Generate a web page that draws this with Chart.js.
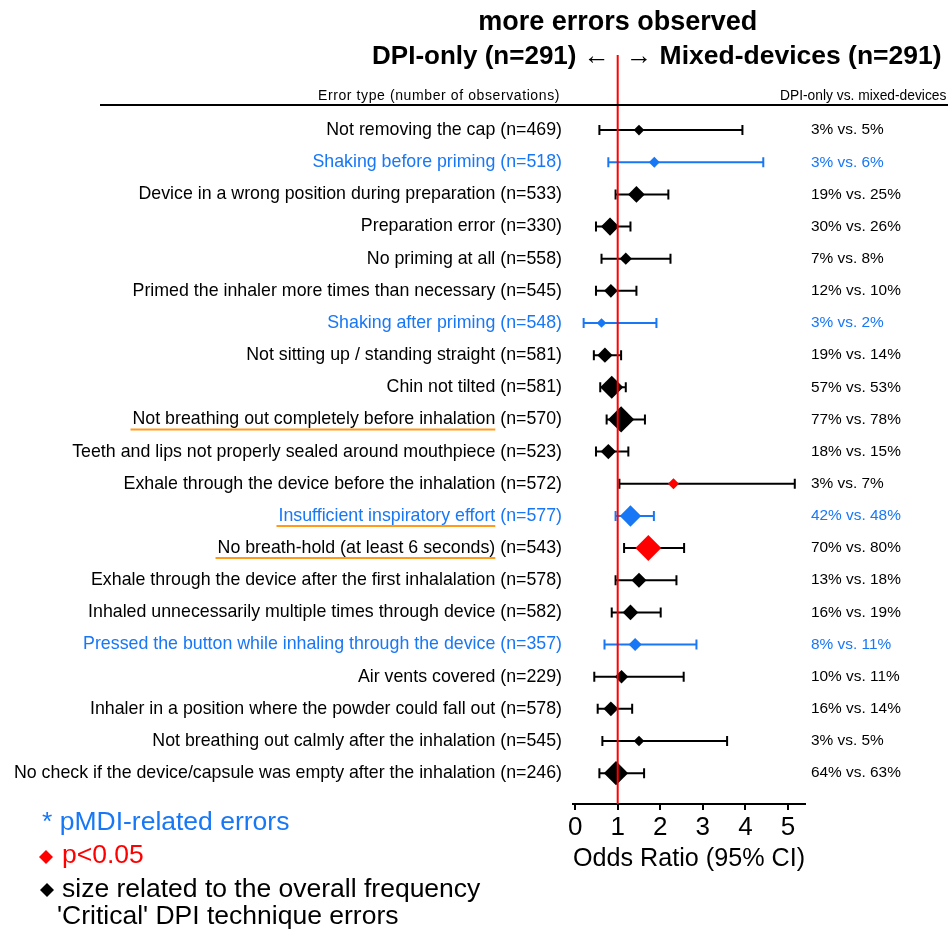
<!DOCTYPE html>
<html>
<head>
<meta charset="utf-8">
<script src="https://cdn.jsdelivr.net/npm/chart.js@4/dist/chart.umd.min.js"></script>
<style>
  body { margin: 0; background: #fff; }
  canvas { display: block; }
</style>
</head>
<body>
<canvas id="forest" width="948" height="933"></canvas>
<script>
const errorTypes = [
    'Not removing the cap',
    'Shaking before priming',
    'Device in a wrong position during preparation',
    'Preparation error',
    'No priming at all',
    'Primed the inhaler more times than necessary',
    'Shaking after priming',
    'Not sitting up / standing straight',
    'Chin not tilted',
    'Not breathing out completely before inhalation',
    'Teeth and lips not properly sealed around mouthpiece',
    'Exhale through the device before the inhalation',
    'Insufficient inspiratory effort',
    'No breath-hold (at least 6 seconds)',
    'Exhale through the device after the first inhalalation',
    'Inhaled unnecessarily multiple times through device',
    'Pressed the button while inhaling through the device',
    'Air vents covered',
    'Inhaler in a position where the powder could fall out',
    'Not breathing out calmly after the inhalation',
    'No check if the device/capsule was empty after the inhalation'
];
const observations = [469, 518, 533, 330, 558, 545, 548, 581, 581, 570, 523, 572, 577, 543, 578, 582, 357, 229, 578, 545, 246];
const oddsRatio = [1.50, 1.86, 1.44, 0.82, 1.19, 0.84, 0.62, 0.70, 0.86, 1.08, 0.78, 2.31, 1.30, 1.72, 1.50, 1.30, 1.41, 1.09, 0.84, 1.50, 0.96];
const ciLower   = [0.57, 0.78, 0.95, 0.49, 0.62, 0.49, 0.20, 0.44, 0.59, 0.74, 0.49, 1.04, 0.95, 1.15, 0.95, 0.86, 0.69, 0.45, 0.53, 0.64, 0.57];
const ciUpper   = [3.93, 4.42, 2.19, 1.30, 2.24, 1.44, 1.91, 1.08, 1.19, 1.64, 1.25, 5.16, 1.85, 2.56, 2.38, 2.01, 2.85, 2.55, 1.34, 3.57, 1.62];
const dpiOnlyPct = [3, 3, 19, 30, 7, 12, 3, 19, 57, 77, 18, 3, 42, 70, 13, 16, 8, 10, 16, 3, 64];
const mixedPct   = [5, 6, 25, 26, 8, 10, 2, 14, 53, 78, 15, 7, 48, 80, 18, 19, 11, 11, 14, 5, 63];
const pmdiRelated = [false, true, false, false, false, false, true, false, false, false, false, false, true, false, false, false, true, false, false, false, false];
const significant = [false, false, false, false, false, false, false, false, false, false, false, true, false, true, false, false, false, false, false, false, false];
const criticalError = [false, false, false, false, false, false, false, false, false, true, false, false, true, true, false, false, false, false, false, false, false];
const tickValues = [0, 1, 2, 3, 4, 5];

const BLUE = '#1877f5';
const RED = '#ff0000';
const ORANGE = '#ff9a1a';
const FONT = "'Liberation Sans', Arial, Helvetica, sans-serif";
Chart.defaults.font.family = FONT;

function pointColor(i) {
    if (significant[i]) return RED;
    if (pmdiRelated[i]) return BLUE;
    return '#000';
}
// diamond half-width grows with the overall frequency of the error
const diamondSize = dpiOnlyPct.map((p, i) => 3 + 1.15 * Math.sqrt((p + mixedPct[i]) / 2));

function diamond(ctx, x, y, r, color) {
    ctx.fillStyle = color;
    ctx.beginPath();
    ctx.moveTo(x, y - r);
    ctx.lineTo(x + r, y);
    ctx.lineTo(x, y + r);
    ctx.lineTo(x - r, y);
    ctx.closePath();
    ctx.fill();
}

function spaced(ctx, px) {
    if ('letterSpacing' in ctx) ctx.letterSpacing = px + 'px';
}

const forestPlugin = {
    id: 'forest',
    beforeDatasetsDraw(chart) {
        let ctx = chart.ctx;
        let xs = chart.scales.x, ys = chart.scales.y;
        ctx.save();
        ctx.lineWidth = 2;
        oddsRatio.forEach((v, i) => {
            let y = ys.getPixelForValue(i);
            let x0 = xs.getPixelForValue(ciLower[i]);
            let x1 = xs.getPixelForValue(ciUpper[i]);
            ctx.strokeStyle = pmdiRelated[i] ? BLUE : '#000';
            ctx.beginPath();
            ctx.moveTo(x0, y); ctx.lineTo(x1, y);
            ctx.moveTo(x0, y - 5); ctx.lineTo(x0, y + 5);
            ctx.moveTo(x1, y - 5); ctx.lineTo(x1, y + 5);
            ctx.stroke();
        });
        ctx.restore();
    },
    afterDatasetsDraw(chart) {
        let ctx = chart.ctx;
        let xs = chart.scales.x, ys = chart.scales.y;
        let area = chart.chartArea;
        ctx.save();

        // reference line at OR = 1
        let x1 = xs.getPixelForValue(1);
        ctx.strokeStyle = RED;
        ctx.lineWidth = 2;
        ctx.beginPath();
        ctx.moveTo(x1, 55);
        ctx.lineTo(x1, area.bottom);
        ctx.stroke();

        // titles
        ctx.fillStyle = '#000';
        ctx.textBaseline = 'middle';
        ctx.font = 'bold 27px ' + FONT;
        ctx.textAlign = 'center';
        ctx.fillText('more errors observed', x1, 23);
        ctx.font = 'bold 26px ' + FONT;
        ctx.textAlign = 'right';
        ctx.fillText('DPI-only (n=291) \u2190', x1 - 8, 57);
        ctx.textAlign = 'left';
        ctx.font = 'bold 26.5px ' + FONT;
        ctx.fillText('\u2192 Mixed-devices (n=291)', x1 + 8, 57);

        // header row
        ctx.font = '14px ' + FONT;
        spaced(ctx, 0.6);
        ctx.textAlign = 'right';
        ctx.fillText('Error type (number of observations)', 560, 96);
        spaced(ctx, 0);
        ctx.font = '13.8px ' + FONT;
        ctx.textAlign = 'left';
        ctx.fillText('DPI-only vs. mixed-devices', 780, 96);
        ctx.strokeStyle = '#000';
        ctx.lineWidth = 2;
        ctx.beginPath();
        ctx.moveTo(100, 105);
        ctx.lineTo(948, 105);
        ctx.stroke();

        // row labels and percentages
        errorTypes.forEach((name, i) => {
            let y = ys.getPixelForValue(i);
            let color = pmdiRelated[i] ? BLUE : '#000';
            let suffix = ' (n=' + observations[i] + ')';
            ctx.font = '17.8px ' + FONT;
            ctx.fillStyle = color;
            ctx.textAlign = 'right';
            ctx.fillText(name + suffix, 562, y);
            if (criticalError[i]) {
                let full = ctx.measureText(name + suffix).width;
                let tail = ctx.measureText(suffix).width;
                ctx.strokeStyle = ORANGE;
                ctx.lineWidth = 2;
                ctx.beginPath();
                ctx.moveTo(562 - full - 2, y + 10);
                ctx.lineTo(562 - tail, y + 10);
                ctx.stroke();
            }
            ctx.font = '15.4px ' + FONT;
            ctx.textAlign = 'left';
            ctx.fillText(dpiOnlyPct[i] + '% vs. ' + mixedPct[i] + '%', 811, y);
        });

        // legend
        ctx.font = '26.5px ' + FONT;
        ctx.textAlign = 'left';
        ctx.fillStyle = BLUE;
        ctx.fillText('* pMDI-related errors', 42, 823);
        diamond(ctx, 46, 857, 7, RED);
        ctx.fillStyle = RED;
        ctx.fillText('p<0.05', 62, 856);
        diamond(ctx, 47, 890, 7, '#000');
        ctx.fillStyle = '#000';
        ctx.fillText('size related to the overall frequency', 62, 890);
        ctx.fillText("'Critical' DPI technique errors", 57, 917);
        ctx.restore();
    }
};

let ctx = document.getElementById('forest').getContext('2d');
let forestChart = new Chart(ctx, {
    type: 'scatter',
    data: {
        datasets: [{
            data: oddsRatio.map((v, i) => ({ x: v, y: i })),
            pointStyle: 'rectRot',
            pointRadius: diamondSize,
            pointHoverRadius: diamondSize,
            backgroundColor: oddsRatio.map((v, i) => pointColor(i)),
            borderColor: oddsRatio.map((v, i) => pointColor(i)),
            borderWidth: 0
        }]
    },
    options: {
        responsive: false,
        animation: false,
        events: [],
        layout: {
            padding: { left: 573, right: 143, top: 106, bottom: 54 }
        },
        scales: {
            x: {
                min: -0.05,
                max: 5.4,
                afterBuildTicks: scale => { scale.ticks = tickValues.map(v => ({ value: v })); },
                grid: { drawOnChartArea: false, tickLength: 6, color: '#000', lineWidth: 2 },
                border: { color: '#000', width: 2 },
                ticks: { color: '#000', font: { size: 26 }, padding: 2 },
                title: {
                    display: true,
                    text: 'Odds Ratio (95% CI)',
                    color: '#000',
                    font: { size: 26.5 },
                    padding: { top: -2, bottom: 4 }
                }
            },
            y: {
                display: false,
                reverse: true,
                min: -0.75,
                max: 20.96
            }
        },
        plugins: {
            legend: { display: false },
            tooltip: { enabled: false }
        }
    },
    plugins: [forestPlugin]
});
</script>
</body>
</html>
